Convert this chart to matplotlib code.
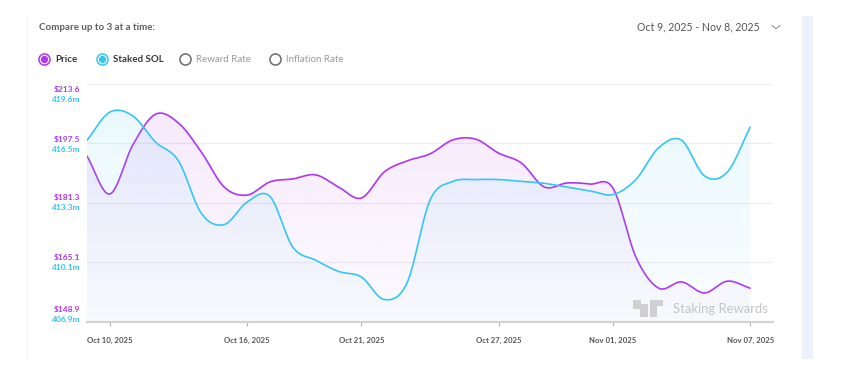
import numpy as np
import pandas as pd
import matplotlib
matplotlib.use("Agg")
import matplotlib.pyplot as plt
import matplotlib.dates as mdates
import matplotlib.colors as mcolors
from matplotlib.lines import Line2D
from matplotlib.patches import Rectangle, Polygon
from matplotlib.transforms import offset_copy

plt.rcParams['font.family'] = ['Lato', 'DejaVu Sans']

# daily values, Oct 9 .. Nov 7 2025
dates = pd.date_range("2025-10-09", "2025-11-07", freq="D")
price = [194.0, 183.7, 197.0, 205.4, 203.0, 195.1, 185.6, 183.4, 187.0, 187.8,
         188.9, 185.6, 182.6, 189.7, 192.7, 194.6, 198.4, 198.6, 194.8, 192.1,
         185.6, 186.7, 186.4, 185.3, 166.6, 158.1, 159.8, 156.8, 160.0, 158.1]
staked = [416.6, 418.1, 417.9, 416.5, 415.5, 412.7, 412.1, 413.3, 413.6, 410.9,
          410.2, 409.6, 409.3, 408.1, 409.0, 413.4, 414.4, 414.5, 414.5, 414.4,
          414.3, 414.1, 413.9, 413.7, 414.5, 416.2, 416.6, 414.7, 414.9, 417.3]

price_ticks = [148.9, 165.1, 181.3, 197.5, 213.6]
staked_ticks = [406.9, 410.1, 413.3, 416.5, 419.6]
xtick_dates = ["2025-10-10", "2025-10-16", "2025-10-21", "2025-10-27", "2025-11-01", "2025-11-07"]
legend_labels = ["Price", "Staked SOL", "Reward Rate", "Inflation Rate"]
legend_active = [True, True, False, False]

PURPLE = "#b035f2"
CYAN = "#35c6f4"
W, H = 843, 371


def catmull(y, n=24):
    y = np.asarray(y, float)
    p = np.concatenate([[2 * y[0] - y[1]], y, [2 * y[-1] - y[-2]]])
    ts, out = [], []
    t = np.linspace(0, 1, n, endpoint=False)
    for i in range(len(y) - 1):
        p0, p1, p2, p3 = p[i:i + 4]
        v = 0.5 * (2 * p1 + (-p0 + p2) * t + (2 * p0 - 5 * p1 + 4 * p2 - p3) * t ** 2
                   + (-p0 + 3 * p1 - 3 * p2 + p3) * t ** 3)
        ts.append(i + t)
        out.append(v)
    ts.append([len(y) - 1])
    out.append([y[-1]])
    return np.concatenate(ts), np.concatenate(out)


def gradient_fill(ax, x, y, lo, hi, color, a_top, a_bot):
    poly = ax.fill_between(x, y, lo, facecolor='none', edgecolor='none')
    img = np.zeros((200, 1, 4))
    img[:, :, :3] = mcolors.to_rgb(color)
    img[:, :, 3] = np.linspace(a_top, a_bot, 200)[:, None]
    im = ax.imshow(img, aspect='auto', extent=[x.min(), x.max(), lo, hi],
                   origin='upper', zorder=1, interpolation='bilinear')
    im.set_clip_path(poly.get_paths()[0], transform=ax.transData)


fig = plt.figure(figsize=(W / 100, H / 100), dpi=100)
ax = fig.add_axes([87 / W, 1 - 322 / H, (773 - 87) / W, (322 - 84) / H])
ax2 = ax.twinx()

x0 = mdates.date2num(dates[0])
t, ps = catmull(price)
_, ss = catmull(staked)
xs = x0 + t

gradient_fill(ax, xs, ps, price_ticks[0], price_ticks[-1], "#c77cf2", 0.18, 0.03)
gradient_fill(ax2, xs, ss, staked_ticks[0], staked_ticks[-1], "#5ccff5", 0.14, 0.03)
ax.plot(xs, ps, color=PURPLE, lw=1.2, zorder=3, solid_capstyle='round')
ax2.plot(xs, ss, color=CYAN, lw=1.2, zorder=3, solid_capstyle='round')

xlim = (x0, mdates.date2num(pd.Timestamp("2025-11-08")))
for a, lim in ((ax, price_ticks), (ax2, staked_ticks)):
    a.set_xlim(*xlim)
    a.set_ylim(lim[0], lim[-1])
    for s in a.spines.values():
        s.set_visible(False)
    a.set_yticks([])
ax.set_zorder(1)
ax.patch.set_visible(False)
ax2.set_zorder(2)
ax2.tick_params(axis='x', bottom=False, labelbottom=False)

for v in price_ticks[1:]:
    ax.axhline(v, color="#eeeeee", lw=0.9, zorder=0)
ax.spines['bottom'].set_visible(True)
ax.spines['bottom'].set_color("#d4d4d4")
ax.spines['bottom'].set_linewidth(1.6)

ax.set_xticks([mdates.date2num(pd.Timestamp(d)) for d in xtick_dates])
ax.xaxis.set_major_formatter(mdates.DateFormatter("%b %d, %Y"))
ax.tick_params(axis='x', length=3, width=0.8, color="#b5b5b5", pad=8,
               labelsize=5.6, labelcolor="#555555")
for lab in ax.get_xticklabels():
    lab.set_fontweight('bold')

# two-line y labels at the left
pair_shift = [8, 0, 0, -1, -10]
ytr = ax.get_yaxis_transform()
for pv, sv, sh in zip(price_ticks, staked_ticks, pair_shift):
    ax.text(-7 / (773 - 87), pv, f"${pv:.1f}", color=PURPLE, fontsize=6, fontweight='bold',
            ha='right', va='center',
            transform=offset_copy(ytr, fig, x=0, y=sh + 5, units='dots'))
    ax.text(-7 / (773 - 87), pv, f"{sv:.1f}m", color=CYAN, fontsize=6, fontweight='bold',
            ha='right', va='center',
            transform=offset_copy(ytr, fig, x=0, y=sh - 5, units='dots'))

# header
fig.text(39 / W, 1 - 27 / H, "Compare up to 3 at a time:", fontsize=7.0, fontweight='bold',
         color="#5f5f5f", va='center')
fig.text(760 / W, 1 - 27 / H, "Oct 9, 2025 - Nov 8, 2025", fontsize=7.6,
         color="#555555", va='center', ha='right')
fig.add_artist(Line2D([772 / W, 776 / W, 780 / W], [1 - 25.5 / H, 1 - 28.5 / H, 1 - 25.5 / H],
                      color="#888888", lw=0.7))

# legend radios
leg_x = [44, 102, 185, 275]
leg_colors = [PURPLE, CYAN, "#6b6b6b", "#6b6b6b"]
for lx, lab, col, act in zip(leg_x, legend_labels, leg_colors, legend_active):
    fy = 1 - 59 / H
    fig.add_artist(Line2D([lx / W], [fy], marker='o', markersize=8, markerfacecolor='white',
                          markeredgecolor=col, markeredgewidth=1.1, ls='none'))
    if act:
        fig.add_artist(Line2D([lx / W], [fy], marker='o', markersize=4.2, markerfacecolor=col,
                              markeredgecolor=col, ls='none'))
    fig.text((lx + 11) / W, fy, lab, fontsize=7.0, fontweight='bold' if act else 'normal',
             color="#3a3a3a" if act else "#9a9a9a", va='center')

# card edges
fig.add_artist(Rectangle((802 / W, 1 - 359 / H), 11 / W, 343 / H, facecolor="#eef1fb",
                         edgecolor='none', transform=fig.transFigure))
fig.add_artist(Line2D([27 / W, 27 / W], [1 - 360 / H, 1 - 15 / H], color="#f2f2f7", lw=0.8))

# watermark logo + text
logo = [[(633, 300), (641, 300), (641, 304), (648, 304), (648, 317), (640, 317), (640, 309), (633, 309)],
        [(650, 300), (663, 300), (663, 306), (657, 306), (657, 317), (650, 317)]]
for pts in logo:
    fig.add_artist(Polygon([(px / W, 1 - py / H) for px, py in pts], closed=True,
                           facecolor="#d0d0d0", edgecolor='none', transform=fig.transFigure, zorder=5))
fig.text(673 / W, 1 - 309 / H, "Staking Rewards", fontsize=9.4, color="#c4c4c4", va='center',
         zorder=5)

fig.savefig("out.png", dpi=100)
